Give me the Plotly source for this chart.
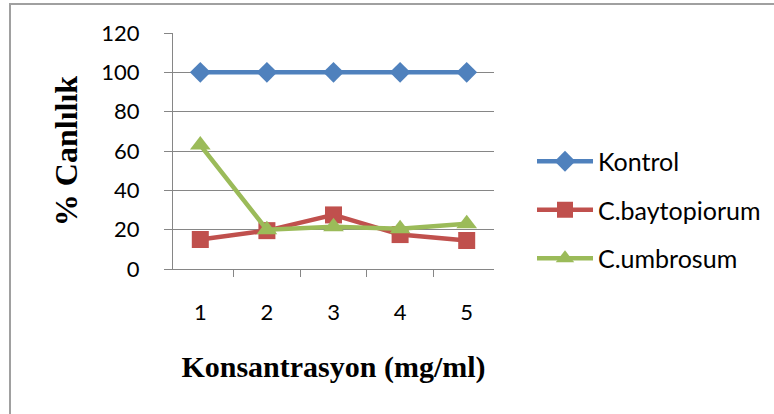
import plotly.graph_objects as go

categories = ["1", "2", "3", "4", "5"]
kontrol = [100, 100, 100, 100, 100]
baytopiorum = [15, 19.5, 27.5, 17.5, 14.5]
umbrosum = [63, 20, 21.5, 20.5, 23]

y_ticks = [0, 20, 40, 60, 80, 100, 120]

series = [
    ("Kontrol", kontrol, "#4F81BD", "diamond", 16),
    ("C.baytopiorum", baytopiorum, "#C0504D", "square", 17),
    ("C.umbrosum", umbrosum, "#9BBB59", "triangle-up", 18),
]

fig = go.Figure()
for i, (name, vals, col, sym, sz) in enumerate(series):
    fig.add_trace(go.Scatter(
        x=categories, y=vals, name=name, mode="lines+markers",
        line=dict(color=col, width=4.5),
        marker=dict(symbol=sym, size=sz, color=col),
        legendgroup="g%d" % i,
    ))

W, H = 774, 414
L, R, T, B = 173, 280, 33, 145
pw, ph = W - L - R, H - T - B

serif = "Liberation Serif, Times New Roman, serif"
sans = "Lato, Open Sans, sans-serif"

fig.update_layout(
    width=W, height=H,
    margin=dict(l=L, r=R, t=T, b=B, autoexpand=False),
    paper_bgcolor="white", plot_bgcolor="white",
    font=dict(family=sans, size=22, color="black"),
    showlegend=True,
    legend=dict(
        x=(532 - L) / pw, y=(H - B - 210) / ph, xanchor="left", yanchor="middle",
        font=dict(size=25, family=sans),
        tracegroupgap=13, itemwidth=56, bgcolor="rgba(0,0,0,0)",
    ),
    xaxis=dict(
        type="category", tickson="boundaries", ticks="outside", ticklen=7,
        tickcolor="#868686", showline=True, linecolor="#868686", linewidth=1,
        showgrid=False, tickfont=dict(size=22), ticklabelstandoff=24,
        automargin=False,
        title=dict(text="Konsantrasyon (mg/ml)", font=dict(family=serif, size=30, color="black", weight="bold"), standoff=31),
    ),
    yaxis=dict(
        range=[0, 120], tickvals=y_ticks, ticks="outside", ticklen=8,
        tickcolor="#868686", showline=True, linecolor="#868686", linewidth=1,
        showgrid=True, gridcolor="#868686", gridwidth=1, zeroline=False,
        tickfont=dict(size=22), ticklabelstandoff=20, automargin=False,
        title=dict(text="% Canlılık", font=dict(family=serif, size=32, color="black", weight="bold"), standoff=14),
    ),
)

# outer chart border (partially cropped in the reference)
fig.add_shape(type="rect", xref="paper", yref="paper",
              x0=(10 - L) / pw, x1=(W + 10 - L) / pw,
              y0=-(H + 10 - (H - B)) / ph, y1=1 + (T - 4) / ph,
              line=dict(color="#A0A0A0", width=2), layer="below")

fig.write_html("out.html")
